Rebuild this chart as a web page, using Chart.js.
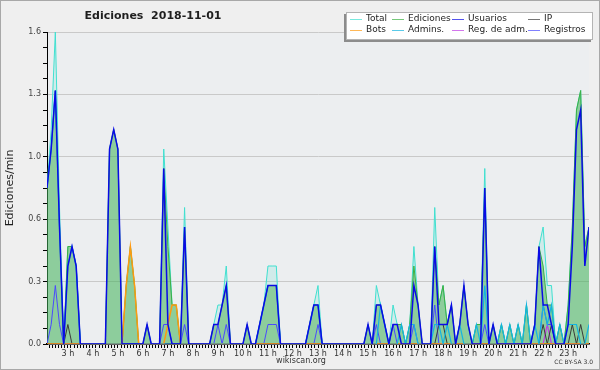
<!DOCTYPE html>
<html><head><meta charset="utf-8">
<script src="https://cdn.jsdelivr.net/npm/chart.js@4.4.0/dist/chart.umd.min.js"></script>
<style>html,body{margin:0;padding:0;background:#efefef;}canvas{display:block;}</style>
</head><body>
<canvas id="c" width="600" height="370"></canvas>
<script>
const times = [
"02:10","02:20","02:30","02:40","02:50",
"03:00","03:10","03:20","03:30","03:40","03:50",
"04:00","04:10","04:20","04:30","04:40","04:50",
"05:00","05:10","05:20","05:30","05:40","05:50",
"06:00","06:10","06:20","06:30","06:40","06:50",
"07:00","07:10","07:20","07:30","07:40","07:50",
"08:00","08:10","08:20","08:30","08:40","08:50",
"09:00","09:10","09:20","09:30","09:40","09:50",
"10:00","10:10","10:20","10:30","10:40","10:50",
"11:00","11:10","11:20","11:30","11:40","11:50",
"12:00","12:10","12:20","12:30","12:40","12:50",
"13:00","13:10","13:20","13:30","13:40","13:50",
"14:00","14:10","14:20","14:30","14:40","14:50",
"15:00","15:10","15:20","15:30","15:40","15:50",
"16:00","16:10","16:20","16:30","16:40","16:50",
"17:00","17:10","17:20","17:30","17:40","17:50",
"18:00","18:10","18:20","18:30","18:40","18:50",
"19:00","19:10","19:20","19:30","19:40","19:50",
"20:00","20:10","20:20","20:30","20:40","20:50",
"21:00","21:10","21:20","21:30","21:40","21:50",
"22:00","22:10","22:20","22:30","22:40","22:50",
"23:00","23:10","23:20","23:30","23:40","23:50"];

const total = [
0.8,1.1,1.6,0.7,0,
0.5,0.5,0.4,0,0,0,
0,0,0,0,1.0,1.1,
1.0,0,0.3,0.5,0.3,0,
0,0.1,0,0,0,1.0,
0.6,0.2,0.2,0,0.7,0,
0,0,0,0,0,0.1,
0.2,0.2,0.4,0,0,0,
0,0.1,0,0,0.1,0.2,
0.4,0.4,0.4,0,0,0,
0,0,0,0,0.1,0.2,
0.3,0,0,0,0,0,
0,0,0,0,0,0,
0.1,0,0.3,0.2,0.1,0,
0.2,0.1,0.1,0,0.1,0.5,
0.2,0,0,0,0.7,0.2,
0.3,0.1,0.2,0,0.1,0.3,
0.1,0,0.1,0.1,0.9,0,
0.1,0,0.1,0,0.1,0,
0.1,0,0.2,0,0.1,0.5,
0.6,0.3,0.3,0,0.1,0,
0.2,0.6,1.2,1.3,0.5,0.6];

const ediciones = [
0.8,1.0,1.3,0.6,0,
0.5,0.5,0.4,0,0,0,
0,0,0,0,1.0,1.1,
1.0,0,0.3,0.5,0.3,0,
0,0.1,0,0,0,0.9,
0.5,0.2,0.2,0,0.6,0,
0,0,0,0,0,0.1,
0.1,0.2,0.3,0,0,0,
0,0.1,0,0,0.1,0.2,
0.3,0.3,0.3,0,0,0,
0,0,0,0,0.1,0.2,
0.2,0,0,0,0,0,
0,0,0,0,0,0,
0.1,0,0.2,0.2,0.1,0,
0.1,0.1,0.1,0,0.1,0.4,
0.2,0,0,0,0.5,0.2,
0.3,0.1,0.2,0,0.1,0.3,
0.1,0,0.1,0.1,0.8,0,
0.1,0,0.1,0,0.1,0,
0.1,0,0.2,0,0.1,0.5,
0.4,0.2,0.2,0,0.1,0,
0.2,0.6,1.2,1.3,0.5,0.6];

const usuarios = [
0.8,1.0,1.3,0.6,0,
0.4,0.5,0.4,0,0,0,
0,0,0,0,1.0,1.1,
1.0,0,0,0,0,0,
0,0.1,0,0,0,0.9,
0.1,0,0,0,0.6,0,
0,0,0,0,0,0.1,
0.1,0.2,0.3,0,0,0,
0,0.1,0,0,0.1,0.2,
0.3,0.3,0.3,0,0,0,
0,0,0,0,0.1,0.2,
0.2,0,0,0,0,0,
0,0,0,0,0,0,
0.1,0,0.2,0.2,0.1,0,
0.1,0.1,0,0,0,0.3,
0.2,0,0,0,0.5,0.1,
0.1,0.1,0.2,0,0.1,0.3,
0.1,0,0,0,0.8,0,
0.1,0,0,0,0,0,
0,0,0,0,0.1,0.5,
0.2,0.2,0.1,0,0,0,
0.1,0.5,1.1,1.2,0.4,0.6];

const ip = [
0,0,0,0,0,
0.1,0,0,0,0,0,
0,0,0,0,0,0,
0,0,0,0,0,0,
0,0,0,0,0,0,
0,0,0,0,0,0,
0,0,0,0,0,0,
0,0,0,0,0,0,
0,0,0,0,0,0,
0,0,0,0,0,0,
0,0,0,0,0,0,
0,0,0,0,0,0,
0,0,0,0,0,0,
0,0,0,0,0,0,
0,0,0,0,0,0,
0,0,0,0,0,0.1,
0.1,0,0,0,0,0,
0,0,0,0,0,0,
0,0,0,0,0,0,
0,0,0,0,0,0,
0.1,0,0.1,0,0,0,
0,0.1,0,0.1,0,0];

const bots = [
0,0,0,0,0,
0,0,0,0,0,0,
0,0,0,0,0,0,
0,0,0.3,0.5,0.3,0,
0,0,0,0,0,0,
0.1,0.2,0.2,0,0,0,
0,0,0,0,0,0,
0,0,0,0,0,0,
0,0,0,0,0,0,
0,0,0,0,0,0,
0,0,0,0,0,0,
0,0,0,0,0,0,
0,0,0,0,0,0,
0,0,0,0,0,0,
0,0,0,0,0,0,
0,0,0,0,0,0,
0,0,0,0,0,0,
0,0,0,0,0,0,
0,0,0,0,0,0,
0,0,0,0,0,0,
0,0,0,0,0,0,
0,0,0,0,0,0];

const admins = [
0.8,1.0,1.3,0.6,0,
0.4,0.5,0.4,0,0,0,
0,0,0,0,0,0,
0,0,0,0,0,0,
0,0,0,0,0,0,
0,0,0,0,0,0,
0,0,0,0,0,0,
0,0,0,0,0,0,
0,0,0,0,0.1,0.2,
0.3,0.3,0.3,0,0,0,
0,0,0,0,0.1,0.2,
0.2,0,0,0,0,0,
0,0,0,0,0,0,
0,0,0,0.2,0.1,0,
0,0,0.1,0,0.1,0.1,
0,0,0,0,0.1,0.1,
0,0.1,0,0,0.1,0,
0,0,0.1,0,0.3,0,
0,0,0.1,0,0.1,0,
0.1,0,0.2,0,0.1,0,
0.2,0.1,0.2,0,0.1,0,
0.1,0.1,0.1,0,0,0.1];

const regAdm = [
0,0,0,0,0,
0,0,0,0,0,0,
0,0,0,0,0,0,
0,0,0,0,0,0,
0,0,0,0,0,0,
0,0,0,0,0,0,
0,0,0,0,0,0,
0,0,0,0,0,0,
0,0,0,0,0,0,
0,0,0,0,0,0,
0,0,0,0,0,0,
0,0,0,0,0,0,
0,0,0,0,0,0,
0,0,0,0,0,0,
0,0,0,0,0,0,
0,0,0,0,0,0,
0,0,0,0,0,0,
0,0,0,0,0,0,
0,0,0,0,0,0,
0,0,0,0,0,0,
0,0.1,0,0,0,0,
0,0,0,0,0,0];

const registros = [
0,0.1,0.3,0.1,0,
0,0,0,0,0,0,
0,0,0,0,0,0,
0,0,0,0,0,0,
0,0,0,0,0,0.1,
0.1,0,0,0,0.1,0,
0,0,0,0,0,0,
0.1,0,0.1,0,0,0,
0,0,0,0,0,0,
0.1,0.1,0.1,0,0,0,
0,0,0,0,0,0,
0.1,0,0,0,0,0,
0,0,0,0,0,0,
0,0,0.1,0,0,0,
0.1,0,0,0,0,0.1,
0,0,0,0,0.2,0,
0,0,0,0,0,0,
0,0,0,0,0.1,0,
0,0,0,0,0,0,
0,0,0,0,0,0,
0.2,0.1,0.1,0,0,0,
0,0,0,0,0,0];

const seriesLabels = ["Total","Ediciones","Usuarios","IP","Bots","Admins.","Reg. de adm.","Registros"];
const yMajorValues = [0, 0.32, 0.64, 0.96, 1.28, 1.6];
const yTickLabels = ["0.0","0.3","0.6","1.0","1.3","1.6"];
const hourValues = [3,4,5,6,7,8,9,10,11,12,13,14,15,16,17,18,19,20,21,22,23];
const hourLabels = ["3 h","4 h","5 h","6 h","7 h","8 h","9 h","10 h","11 h","12 h","13 h","14 h","15 h","16 h","17 h","18 h","19 h","20 h","21 h","22 h","23 h"];

const hours = times.map(t => { const p = t.split(':'); return Number(p[0]) + Number(p[1]) / 60; });
const pts = arr => arr.map((v, i) => ({x: hours[i], y: v}));

const styles = [
  {data: total, color: '#40e0d0', width: 1, fill: 'rgba(64,224,208,0.16)', order: 8},
  {data: ediciones, color: '#3cb043', width: 1, fill: 'rgba(70,172,72,0.48)', order: 7},
  {data: usuarios, color: '#0a0ae6', width: 1.5, fill: false, order: 1},
  {data: ip, color: '#3a3a3a', width: 1, fill: false, order: 4},
  {data: bots, color: '#ff9a10', width: 1.5, fill: false, order: 3},
  {data: admins, color: '#14b4e0', width: 1.2, fill: false, order: 2},
  {data: regAdm, color: '#c03ce6', width: 1.2, fill: false, order: 5},
  {data: registros, color: '#4a4aff', width: 1, fill: false, order: 6}
];

const datasets = styles.map((s, i) => ({
  label: seriesLabels[i],
  data: pts(s.data),
  borderColor: s.color,
  borderWidth: s.width,
  backgroundColor: s.fill || 'transparent',
  fill: s.fill ? 'origin' : false,
  order: s.order,
  pointRadius: 0,
  tension: 0
}));

const xTickVals = [];
for (let k = 18; k <= 190; k++) xTickVals.push(k / 8);
const yTickVals = [];
for (let k = 0; k <= 20; k++) yTickVals.push(k * 0.08);

const deco = {
  id: 'deco',
  beforeDraw(chart) {
    const c = chart.ctx, a = chart.chartArea;
    c.save();
    c.fillStyle = '#efefef'; c.fillRect(0, 0, 600, 370);
    c.fillStyle = '#eceef0'; c.fillRect(a.left, a.top, a.right - a.left, a.bottom - a.top);
    c.restore();
  },
  afterDraw(chart) {
    const c = chart.ctx, a = chart.chartArea;
    c.save();
    c.strokeStyle = '#a8a8a8'; c.lineWidth = 1;
    c.strokeRect(0.5, 0.5, 599, 369);
    c.fillStyle = '#1e1e1e';
    c.font = 'bold 11px "DejaVu Sans"';
    c.textAlign = 'center'; c.textBaseline = 'middle';
    c.fillText('Ediciones  2018-11-01', 153, 16.5);
    c.save();
    c.translate(10, (a.top + a.bottom) / 2);
    c.rotate(-Math.PI / 2);
    c.font = '11px "DejaVu Sans"';
    c.fillText('Ediciones/min', 0, 0);
    c.restore();
    c.font = '8px "DejaVu Sans"'; c.fillStyle = '#333';
    c.fillText('wikiscan.org', 301, 361);
    c.font = '6px "DejaVu Sans"'; c.textAlign = 'right';
    c.fillText('CC BY-SA 3.0', 593, 362);
    c.fillStyle = '#8c8c8c'; c.fillRect(344, 14, 247, 28);
    c.fillStyle = '#ffffff'; c.fillRect(346, 12, 247, 28);
    c.strokeStyle = '#b4b4b4'; c.strokeRect(346.5, 12.5, 246, 27);
    const txtX = [366, 408, 468, 544];
    const rowY = [18.5, 29.5];
    c.font = '9px "DejaVu Sans"'; c.textAlign = 'left'; c.textBaseline = 'middle';
    chart.data.datasets.forEach((ds, i) => {
      const col = i % 4, row = Math.floor(i / 4);
      const y = rowY[row];
      c.strokeStyle = ds.borderColor; c.lineWidth = 1; c.globalAlpha = 0.7;
      c.beginPath(); c.moveTo(txtX[col] - 16, Math.round(y) + 0.5); c.lineTo(txtX[col] - 4, Math.round(y) + 0.5); c.stroke();
      c.globalAlpha = 1;
      c.fillStyle = '#1e1e1e';
      c.fillText(ds.label, txtX[col], y + 0.5);
    });
    c.restore();
  }
};

new Chart(document.getElementById('c'), {
  type: 'line',
  data: {datasets},
  options: {
    responsive: false, animation: false, devicePixelRatio: 1,
    layout: {padding: {top: 32, right: 11, left: 0, bottom: 0}},
    plugins: {legend: {display: false}, title: {display: false}, tooltip: {enabled: false}},
    elements: {point: {radius: 0}, line: {tension: 0}},
    scales: {
      x: {
        type: 'linear', min: hours[0], max: hours[hours.length - 1], z: 1,
        afterFit(s) { s.height = 26; },
        afterBuildTicks(s) { s.ticks = xTickVals.map(v => ({value: v})); },
        grid: {drawOnChartArea: false, drawTicks: true, tickLength: 4, tickColor: '#000', tickWidth: 1},
        border: {display: true, color: '#000', width: 1.5},
        ticks: {
          autoSkip: false, maxRotation: 0, minRotation: 0, padding: 1,
          color: '#333', font: {family: 'DejaVu Sans', size: 8},
          callback(v) {
            const k = hourValues.findIndex(h => Math.abs(h - v) < 1e-6);
            return k >= 0 ? hourLabels[k] : '';
          }
        }
      },
      y: {
        min: 0, max: 1.6,
        afterFit(s) { s.width = 47; },
        afterBuildTicks(s) { s.ticks = yTickVals.map(v => ({value: v})); },
        grid: {
          color(ctx) {
            const v = ctx.tick ? ctx.tick.value : -1;
            return yMajorValues.some(m => Math.abs(m - v) < 1e-6) ? '#c9c9c9' : 'rgba(0,0,0,0)';
          },
          drawTicks: true, tickLength: 4, tickColor: '#000', tickWidth: 1
        },
        border: {display: true, color: '#000', width: 1},
        ticks: {
          autoSkip: false, padding: 2, color: '#444', font: {family: 'DejaVu Sans', size: 8},
          callback(v) {
            const k = yMajorValues.findIndex(m => Math.abs(m - v) < 1e-6);
            return k >= 0 ? yTickLabels[k] : '';
          }
        }
      }
    }
  },
  plugins: [deco]
});
</script>
</body></html>
